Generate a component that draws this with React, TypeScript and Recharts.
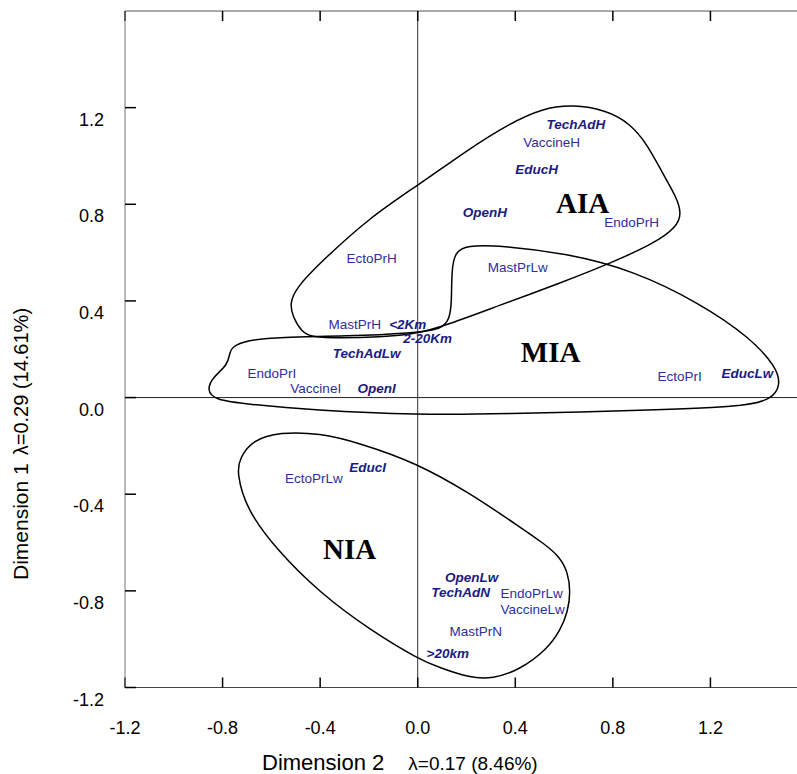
import { ComposedChart, Line, Scatter, XAxis, YAxis, ReferenceLine } from 'recharts';

// axis ticks
const axisTicks = [-1.2, -0.8, -0.4, 0, 0.4, 0.8, 1.2];

// regular category labels
const plainNames = ['VaccineH', 'EndoPrH', 'EctoPrH', 'MastPrLw', 'MastPrH', 'EndoPrI', 'VaccineI', 'EctoPrI', 'EctoPrLw', 'EndoPrLw', 'VaccineLw', 'MastPrN'];
const plainX = [0.549, 0.877, -0.189, 0.41, -0.258, -0.598, -0.418, 1.074, -0.426, 0.467, 0.471, 0.238];
const plainY = [1.058, 0.726, 0.577, 0.539, 0.303, 0.101, 0.039, 0.089, -0.333, -0.812, -0.878, -0.969];

// bold italic labels
const boldNames = ['TechAdH', 'EducH', 'OpenH', '<2Km', '2-20Km', 'TechAdLw', 'OpenI', 'EducLw', 'EducI', 'OpenLw', 'TechAdN', '>20km'];
const boldX = [0.648, 0.488, 0.275, -0.041, 0.041, -0.209, -0.168, 1.352, -0.205, 0.221, 0.176, 0.123];
const boldY = [1.131, 0.945, 0.767, 0.303, 0.246, 0.184, 0.039, 0.101, -0.287, -0.742, -0.804, -1.06];

// group names
const groupNames = ['AIA', 'MIA', 'NIA'];
const groupX = [0.676, 0.545, -0.279];
const groupY = [0.808, 0.188, -0.626];

// outlines
const aiaX = [0.008, -0.197, -0.402, -0.496, -0.525, -0.512, -0.475, -0.434, -0.32, -0.156, -0.004, 0.119, 0.336, 0.582, 0.799, 0.971, 1.061, 1.082, 1.061, 1.004, 0.939, 0.869, 0.775, 0.635, 0.512, 0.377, 0.201];
const aiaY = [0.883, 0.746, 0.556, 0.457, 0.391, 0.333, 0.271, 0.25, 0.246, 0.25, 0.263, 0.3, 0.382, 0.473, 0.56, 0.639, 0.705, 0.763, 0.829, 0.928, 1.052, 1.135, 1.189, 1.213, 1.197, 1.135, 1.023];

const miaX = [-0.762, -0.701, -0.566, -0.291, -0.02, 0.102, 0.131, 0.139, 0.139, 0.152, 0.201, 0.336, 0.611, 0.881, 1.156, 1.361, 1.471, 1.488, 1.451, 1.32, 0.951, 0.336, 0.008, -0.43, -0.701, -0.832, -0.865, -0.84, -0.779, -0.77];
const miaY = [0.209, 0.238, 0.25, 0.254, 0.267, 0.283, 0.329, 0.391, 0.527, 0.601, 0.63, 0.63, 0.597, 0.527, 0.391, 0.25, 0.126, 0.052, -0.01, -0.039, -0.052, -0.068, -0.072, -0.052, -0.027, -0.01, 0.031, 0.085, 0.134, 0.188];

const niaX = [-0.742, -0.73, -0.676, -0.566, -0.402, -0.238, -0.004, 0.213, 0.418, 0.52, 0.582, 0.615, 0.627, 0.615, 0.586, 0.529, 0.418, 0.307, 0.213, 0.09, 0.008, -0.197, -0.402, -0.578, -0.701];
const niaY = [-0.312, -0.25, -0.176, -0.143, -0.147, -0.188, -0.271, -0.395, -0.535, -0.606, -0.659, -0.721, -0.804, -0.887, -0.961, -1.044, -1.127, -1.164, -1.16, -1.118, -1.085, -0.961, -0.808, -0.63, -0.465];

const toPoints = (xs: number[], ys: number[], names?: string[]) =>
  xs.map((x, i) => ({ x, y: ys[i], name: names ? names[i] : '' }));

const SANS = '"Liberation Sans", Arial, sans-serif';

const YTick = ({ x, y, payload }: any) => (
  <text x={x} y={y} dy={18} textAnchor="end" fontSize={18} fontFamily={SANS} fill="#000">
    {payload.value.toFixed(1)}
  </text>
);

const XTick = ({ x, y, payload }: any) => (
  <text x={x} y={y} dy={56} textAnchor="middle" fontSize={18} fontFamily={SANS} fill="#000">
    {payload.value.toFixed(1)}
  </text>
);

const XTitle = ({ viewBox }: any) => (
  <text x={viewBox.x + 137} y={viewBox.y + 82} fontFamily={SANS} fill="#000">
    <tspan fontSize={22}>Dimension 2</tspan>
    <tspan fontSize={19} dx={24}>λ=0.17 (8.46%)</tspan>
  </text>
);

const YTitle = ({ viewBox }: any) => {
  const tx = viewBox.x + 28;
  const ty = viewBox.y + 569;
  return (
    <text x={tx} y={ty} transform={`rotate(-90, ${tx}, ${ty})`} fontFamily={SANS} fill="#000">
      <tspan fontSize={21}>Dimension 1</tspan>
      <tspan fontSize={20} dx={8}>λ=0.29 (14.61%)</tspan>
    </text>
  );
};

const labelShape = (bold: boolean) => (props: any) => (
  <text
    x={props.cx}
    y={props.cy}
    dy="0.35em"
    textAnchor="middle"
    fontSize={13.5}
    fontFamily={SANS}
    fontWeight={bold ? 'bold' : 'normal'}
    fontStyle={bold ? 'italic' : 'normal'}
    fill={bold ? '#1b1b80' : '#2e2e9c'}
  >
    {props.payload.name}
  </text>
);

const groupShape = (props: any) => (
  <text
    x={props.cx}
    y={props.cy}
    dy="0.35em"
    textAnchor="middle"
    fontSize={29}
    fontWeight="bold"
    fontFamily='"Liberation Serif", "Times New Roman", serif'
    fill="#000"
  >
    {props.payload.name}
  </text>
);

export default function App() {
  return (
    <div style={{ position: 'absolute', left: 0, top: 0, width: 797, height: 774, overflow: 'hidden', background: '#fff' }}>
      <ComposedChart width={830} height={774} margin={{ top: 11, right: 22, left: 0, bottom: 0 }}>
        <XAxis
          type="number"
          dataKey="x"
          domain={[-1.2, 1.6]}
          ticks={axisTicks}
          tickSize={-10}
          tickMargin={0}
          height={86.5}
          axisLine={{ stroke: '#444' }}
          tickLine={{ stroke: '#000', strokeWidth: 1.5 }}
          tick={<XTick />}
          label={<XTitle />}
          allowDataOverflow
        />
        <XAxis
          xAxisId="top"
          orientation="top"
          mirror
          type="number"
          dataKey="x"
          domain={[-1.2, 1.6]}
          ticks={axisTicks}
          tickSize={10}
          axisLine={{ stroke: '#555' }}
          tickLine={{ stroke: '#000', strokeWidth: 1.5 }}
          tick={() => <g />}
          allowDataOverflow
        />
        <YAxis
          type="number"
          dataKey="y"
          domain={[-1.2, 1.6]}
          ticks={axisTicks}
          tickSize={-11}
          tickMargin={32}
          width={125}
          axisLine={{ stroke: '#777' }}
          tickLine={{ stroke: '#000', strokeWidth: 1.5 }}
          tick={<YTick />}
          label={<YTitle />}
          allowDataOverflow
        />
        <YAxis
          yAxisId="right"
          orientation="right"
          mirror
          type="number"
          dataKey="y"
          domain={[-1.2, 1.6]}
          ticks={axisTicks}
          tickSize={11}
          width={0}
          axisLine={{ stroke: '#555' }}
          tickLine={{ stroke: '#000', strokeWidth: 1.5 }}
          tick={() => <g />}
          allowDataOverflow
        />
        <ReferenceLine x={0} stroke="#333" strokeWidth={1} />
        <ReferenceLine y={0} stroke="#222" strokeWidth={1} />
        <Line data={toPoints(aiaX, aiaY)} dataKey="y" type="basisClosed" stroke="#000" strokeWidth={1.5} dot={false} activeDot={false} isAnimationActive={false} />
        <Line data={toPoints(miaX, miaY)} dataKey="y" type="basisClosed" stroke="#000" strokeWidth={1.5} dot={false} activeDot={false} isAnimationActive={false} />
        <Line data={toPoints(niaX, niaY)} dataKey="y" type="basisClosed" stroke="#000" strokeWidth={1.5} dot={false} activeDot={false} isAnimationActive={false} />
        <Scatter data={toPoints(plainX, plainY, plainNames)} dataKey="y" shape={labelShape(false)} isAnimationActive={false} />
        <Scatter data={toPoints(boldX, boldY, boldNames)} dataKey="y" shape={labelShape(true)} isAnimationActive={false} />
        <Scatter xAxisId="top" yAxisId="right" data={toPoints(groupX, groupY, groupNames)} dataKey="y" shape={groupShape} isAnimationActive={false} />
      </ComposedChart>
    </div>
  );
}
